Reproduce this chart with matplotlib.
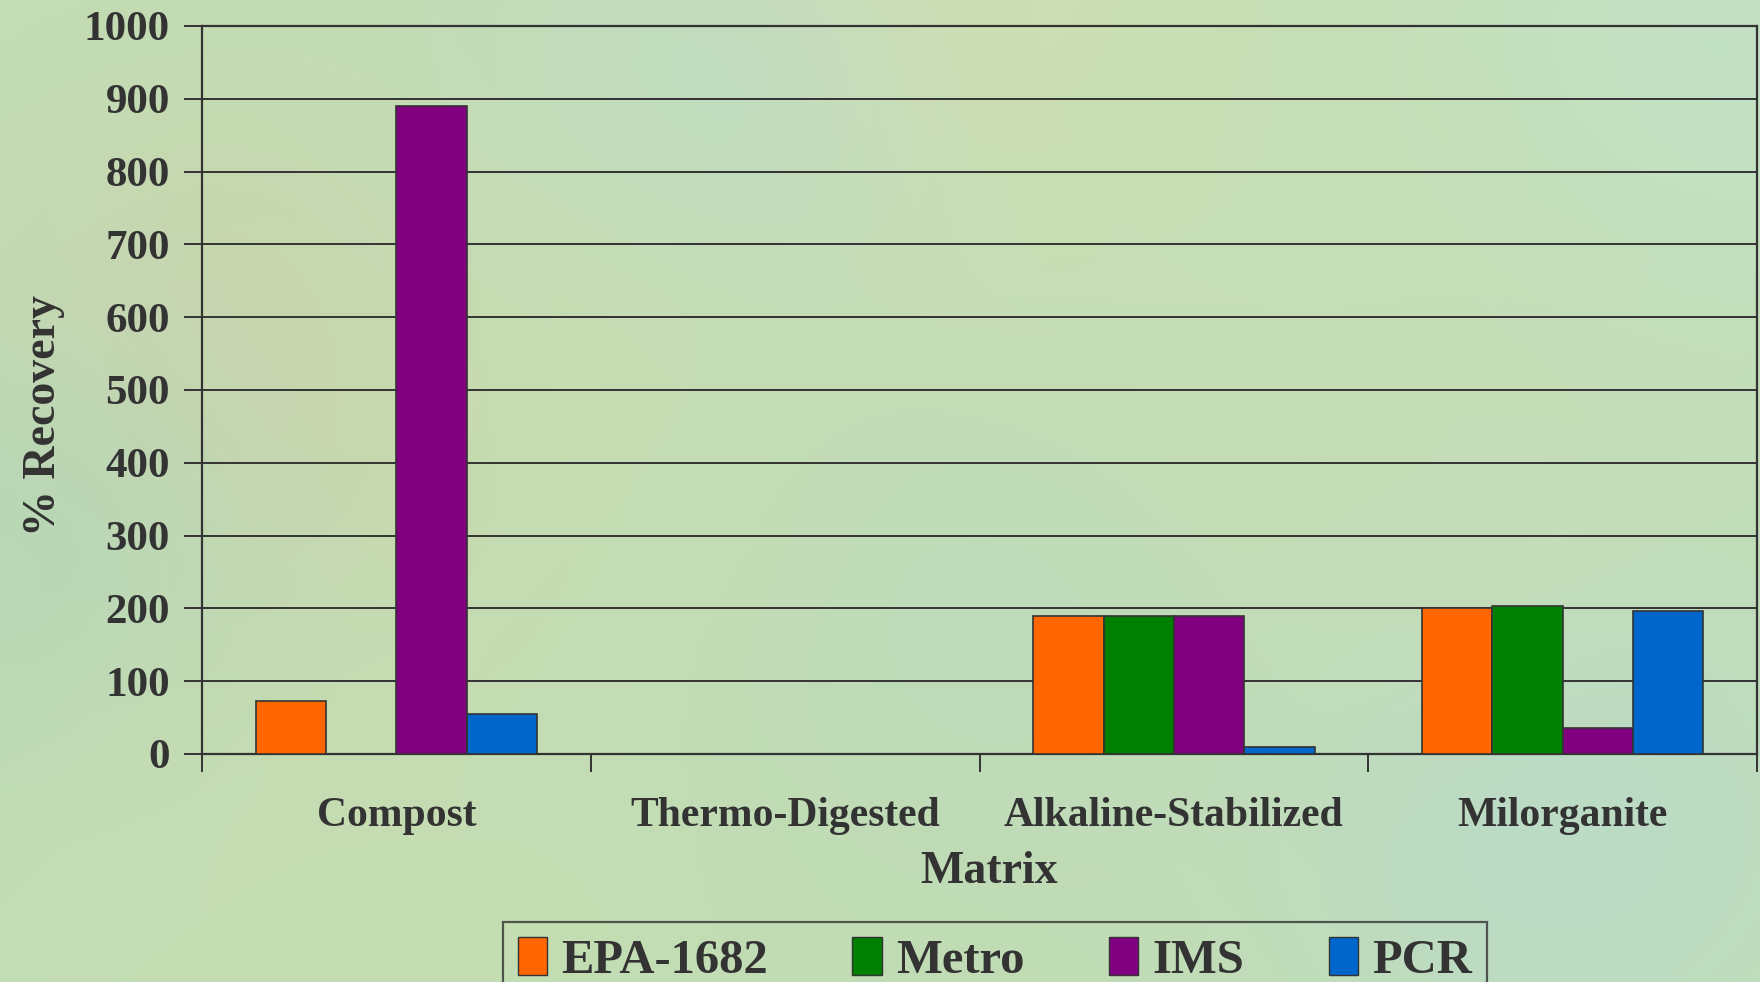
import numpy as np
import matplotlib
matplotlib.use("Agg")
import matplotlib.pyplot as plt
from matplotlib.patches import Patch

# Recovery data by matrix and method
matrices = ["Compost", "Thermo-Digested", "Alkaline-Stabilized", "Milorganite"]
methods = ["EPA-1682", "Metro", "IMS", "PCR"]
epa_1682 = [73, np.nan, 190, 200]
metro = [np.nan, np.nan, 190, 203]
ims = [890, np.nan, 190, 36]
pcr = [55, np.nan, 10, 196]
y_ticks = [0, 100, 200, 300, 400, 500, 600, 700, 800, 900, 1000]

series = [epa_1682, metro, ims, pcr]
colors = ["#FF6600", "#008000", "#800080", "#0066CC"]
ink = "#333333"

plt.rcParams["font.family"] = ["Liberation Serif", "DejaVu Serif"]
plt.rcParams["font.weight"] = "bold"

W, H = 1760, 982
fig = plt.figure(figsize=(W / 100, H / 100), dpi=100)

# soft painted backdrop: pale green with tinted patches
bg = fig.add_axes([0, 0, 1, 1], zorder=-10)
bg.set_axis_off()
yy, xx = np.mgrid[0:H:2, 0:W:2].astype(float)
img = np.zeros(xx.shape + (3,))
img[:] = np.array([194, 221, 180]) / 255.0
blobs = [
    # (x, y, radius, rgb, strength)
    (900, 30, 220, (224, 224, 170), 0.6),
    (230, 400, 200, (210, 206, 168), 0.6),
    (720, 120, 180, (182, 216, 206), 0.6),
    (1550, 800, 200, (182, 218, 214), 0.6),
    (1700, 60, 200, (196, 228, 210), 0.6),
    (50, 560, 180, (176, 214, 186), 0.6),
    (1150, 420, 240, (200, 222, 178), 0.5),
    (600, 350, 180, (202, 222, 174), 0.5),
    (1000, 620, 200, (184, 216, 190), 0.5),
    (1350, 180, 200, (200, 224, 186), 0.5),
    (300, 860, 200, (202, 222, 178), 0.5),
    (1500, 500, 180, (198, 220, 182), 0.5),
]
for bx, by, r, col, s in blobs:
    w = s * np.exp(-((xx - bx) ** 2 + (yy - by) ** 2) / (2 * r ** 2))[..., None]
    img = img * (1 - w) + w * (np.array(col) / 255.0)
bg.imshow(img, extent=[0, 1, 0, 1], aspect="auto", interpolation="bilinear")
bg.set_xlim(0, 1)
bg.set_ylim(0, 1)

ax = fig.add_axes([202 / W, 1 - 754 / H, (1757 - 202) / W, (754 - 26) / H])
ax.patch.set_alpha(0)

x = np.arange(len(matrices))
bw = 0.181
offsets = (np.arange(len(methods)) - 1.5) * bw
for vals, off, col in zip(series, offsets, colors):
    ax.bar(x + off, vals, width=bw, color=col, edgecolor=ink, linewidth=1.2, zorder=3)

ax.set_xlim(-0.5, len(matrices) - 0.5)
ax.set_ylim(0, 1000)
ax.set_yticks(y_ticks)
ax.set_yticklabels([str(t) for t in y_ticks])
ax.yaxis.grid(True, color=ink, linewidth=1.4, zorder=1)
ax.set_axisbelow(True)

ax.set_xticks(np.arange(len(matrices) + 1) - 0.5)
ax.set_xticklabels([])
ax.set_xticks(x, minor=True)
ax.set_xticklabels(matrices, minor=True)
ax.tick_params(axis="x", which="major", direction="out", length=13, width=1.4, color=ink)
ax.tick_params(axis="x", which="minor", length=0, pad=31, labelsize=30, labelcolor=ink)
ax.tick_params(axis="y", direction="out", length=13, width=1.4, color=ink,
               pad=10, labelsize=31, labelcolor=ink)

for side in ["left", "right", "bottom", "top"]:
    ax.spines[side].set_color(ink)
    ax.spines[side].set_linewidth(1.6)

axw, axh = 1757 - 202, 754 - 26
ax.set_xlabel("Matrix", fontsize=33, fontweight="bold", color=ink, va="center")
ax.xaxis.set_label_coords((989 - 202) / axw, (754 - 872) / axh)
ax.set_ylabel("% Recovery", fontsize=33, fontweight="bold", color=ink, va="center")
ax.yaxis.set_label_coords((44 - 202) / axw, (754 - 415) / axh)

handles = [Patch(facecolor=c, edgecolor=ink, linewidth=1.0) for c in colors]
leg = fig.legend(handles, methods, loc="upper center",
                 bbox_to_anchor=(995 / W, 1 - 922 / H), borderaxespad=0, ncol=4,
                 prop={"size": 35, "weight": "bold"}, frameon=True, fancybox=False,
                 handlelength=0.6, handleheight=0.85, handletextpad=0.3,
                 columnspacing=1.73, borderpad=0.3, labelcolor=ink)
leg.get_frame().set_facecolor("none")
leg.get_frame().set_edgecolor(ink)
leg.get_frame().set_linewidth(1.6)

fig.savefig("out.png", dpi=100)
